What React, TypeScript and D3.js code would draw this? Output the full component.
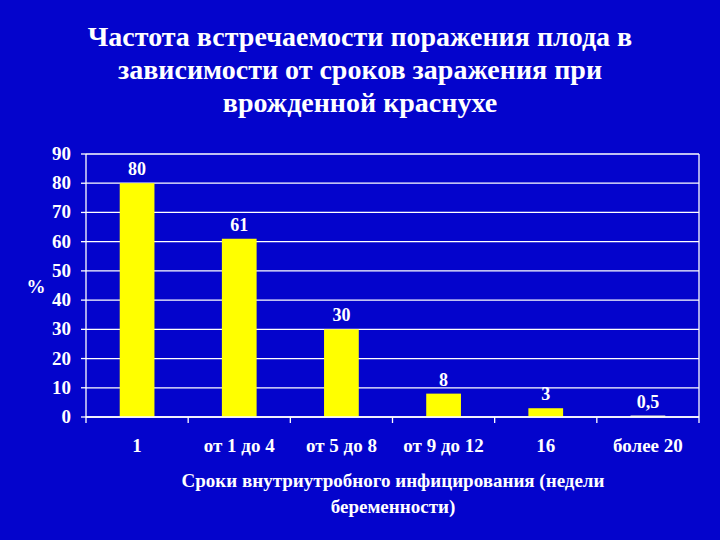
import React from "react";
import * as d3 from "d3";

const categories = ["1", "от 1 до 4", "от 5 до 8", "от 9 до 12", "16", "более 20"];
const values = [80, 61, 30, 8, 3, 0.5];
const valueLabels = ["80", "61", "30", "8", "3", "0,5"];
const yTicks = [0, 10, 20, 30, 40, 50, 60, 70, 80, 90];
const titleLines = [
  "Частота встречаемости поражения плода в",
  "зависимости от сроков заражения при",
  "врожденной краснухе",
];
const xTitleLines = ["Сроки внутриутробного инфицирования (недели", "беременности)"];

const W = 720;
const H = 540;
const left = 86;
const right = 699;
const top = 154;
const bottom = 417;
const BG = "#0404cc";
const FONT = "Liberation Serif, Times New Roman, DejaVu Serif, serif";

export default function App() {
  const x = d3.scaleBand<string>().domain(categories).range([left, right]).paddingInner(0.66).paddingOuter(0.33);
  const xb = d3.scaleBand<string>().domain(categories).range([left, right]);
  const y = d3.scaleLinear().domain([0, 90]).range([bottom, top]);
  const ts = { fontFamily: FONT, fontWeight: "bold" as const };

  return (
    <svg width={W} height={H} style={{ position: "absolute", left: 0, top: 0, display: "block" }}>
      <rect x={0} y={0} width={W} height={H} fill={BG} />
      {titleLines.map((t, i) => (
        <text key={i} x={360} y={46 + i * 33} textAnchor="middle" fill="#fff" style={ts} fontSize={28}>
          {t}
        </text>
      ))}
      {yTicks.map((t) => (
        <line key={t} x1={left} x2={right} y1={y(t)} y2={y(t)} stroke="#fff" strokeWidth={1.3} />
      ))}
      <line x1={right} x2={right} y1={top} y2={bottom} stroke="#fff" strokeWidth={1.3} />
      <line x1={left} x2={left} y1={top} y2={bottom + 6} stroke="#fff" strokeWidth={1.3} />
      {yTicks.map((t) => (
        <g key={"yt" + t}>
          <line x1={left - 5} x2={left} y1={y(t)} y2={y(t)} stroke="#fff" strokeWidth={1.3} />
          <text x={71} y={y(t) + 6} textAnchor="end" fill="#fff" style={ts} fontSize={19}>
            {t}
          </text>
        </g>
      ))}
      <text x={36} y={293} textAnchor="middle" fill="#fff" style={ts} fontSize={19}>
        %
      </text>
      {categories.map((c) => (
        <line key={"xt" + c} x1={(xb(c) as number) + xb.bandwidth()} x2={(xb(c) as number) + xb.bandwidth()} y1={bottom} y2={bottom + 6} stroke="#fff" strokeWidth={1.3} />
      ))}
      {categories.map((c, i) => (
        <rect key={"b" + c} x={x(c)} y={y(values[i])} width={x.bandwidth()} height={bottom - y(values[i])} fill={i === 5 ? "#ffffcc" : "#ffff00"} />
      ))}
      <line x1={left} x2={right} y1={bottom} y2={bottom} stroke="#fff" strokeWidth={1.3} />
      {categories.map((c, i) => (
        <text key={"v" + c} x={(x(c) as number) + x.bandwidth() / 2} y={y(values[i]) - 8} textAnchor="middle" fill="#fff" style={ts} fontSize={18}>
          {valueLabels[i]}
        </text>
      ))}
      {categories.map((c) => (
        <text key={"c" + c} x={(xb(c) as number) + xb.bandwidth() / 2} y={452} textAnchor="middle" fill="#fff" style={ts} fontSize={19}>
          {c}
        </text>
      ))}
      {xTitleLines.map((t, i) => (
        <text key={"xl" + i} x={393} y={487 + i * 26} textAnchor="middle" fill="#fff" style={ts} fontSize={19}>
          {t}
        </text>
      ))}
    </svg>
  );
}
